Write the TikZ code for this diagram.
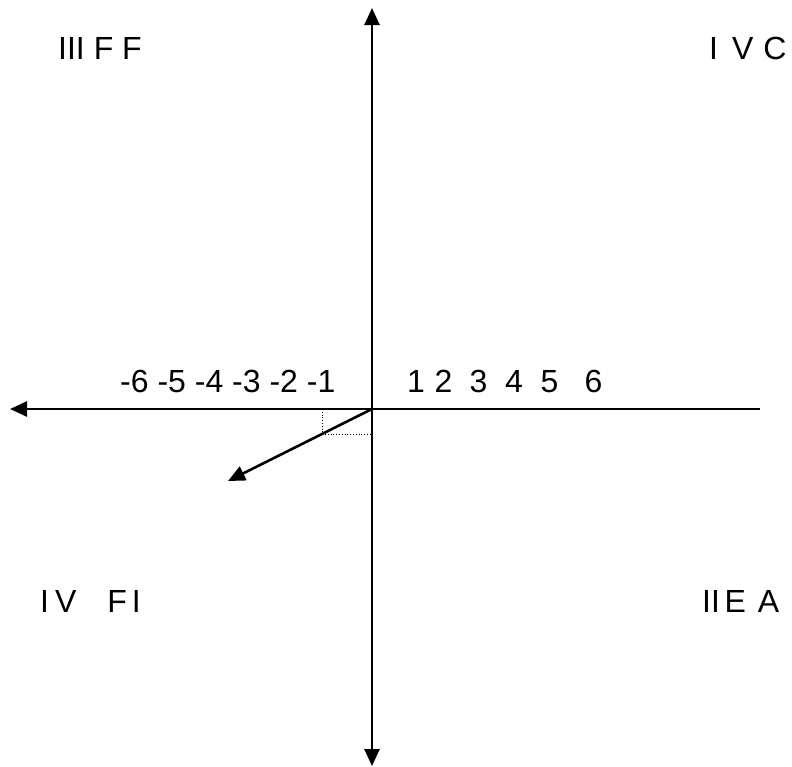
\documentclass[tikz,border=0pt]{standalone}
\usepackage{fontspec}
\setmainfont{Liberation Sans}
\usetikzlibrary{arrows.meta}
\begin{document}
\begin{tikzpicture}[x=1pt,y=-1pt,
  axis/.style={line width=2.6pt,-{Triangle[length=17pt,width=15pt]}},
  lbl/.style={inner sep=0pt,anchor=base west,font=\fontsize{32}{38}\selectfont},
  num/.style={inner sep=0pt,anchor=base,font=\fontsize{32}{38}\selectfont}]
\useasboundingbox (0,0) rectangle (792,766);
\coordinate (O) at (372,409);
\coordinate (L) at (10,409);
\coordinate (R) at (760,409);
\coordinate (T) at (372,8);
\coordinate (B) at (372,766);
\coordinate (V) at (228,481);
\coordinate (D1) at (322,409);
\coordinate (D2) at (322,434);
\coordinate (D3) at (372,434);
\draw[axis] (R) -- (L);
\draw[axis] (O) -- (T);
\draw[axis] (O) -- (B);
\draw[dotted,line width=0.8pt] (D1) -- (D2) -- (D3);
\draw[axis] (O) -- (V);
\node[lbl] (q3) at (58,59) {III F F};
\node[lbl] (q1) at (709,59) {I\hspace{14pt}V\hspace{10pt}C};
\node[lbl] (q4) at (40,612) {I\hspace{6pt}V\hspace{31pt}F\hspace{5pt}I};
\node[lbl] (q2) at (702,612) {II\hspace{4.6pt}E\hspace{12pt}A};
\node[lbl] (neg) at (120,392) {-6 -5 -4 -3 -2 -1};
\node[num] (n1) at (416,392) {1};
\node[num] (n2) at (443.5,392) {2};
\node[num] (n3) at (478.5,392) {3};
\node[num] (n4) at (514,392) {4};
\node[num] (n5) at (549.5,392) {5};
\node[num] (n6) at (593.5,392) {6};
\end{tikzpicture}
\end{document}
